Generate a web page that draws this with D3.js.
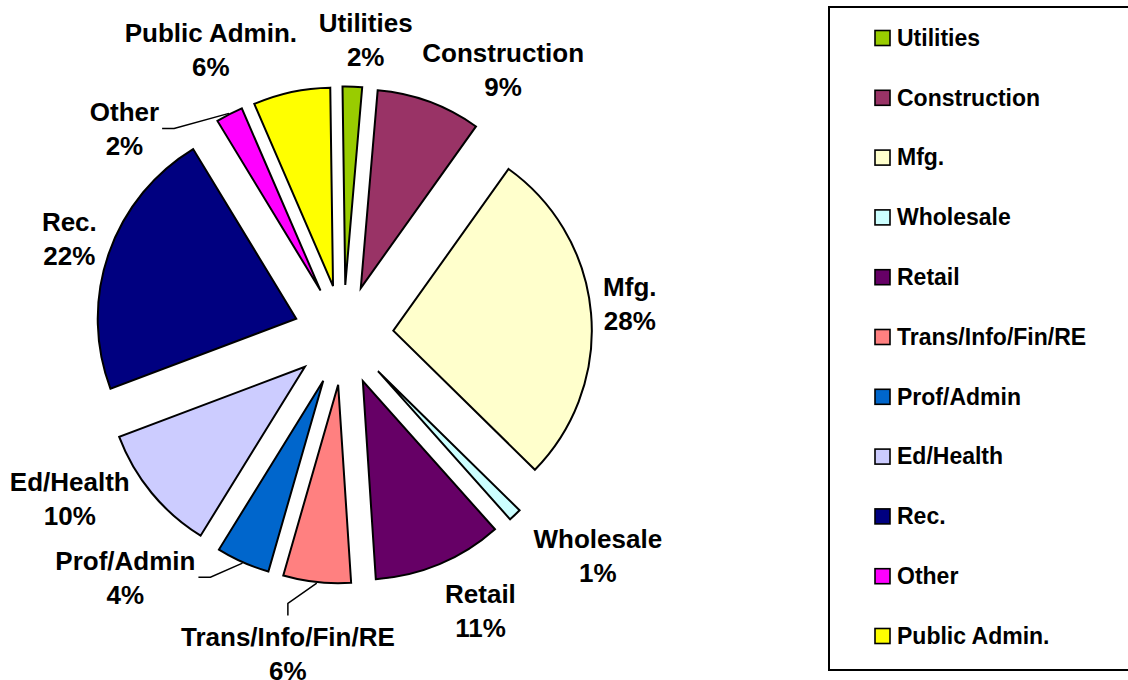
<!DOCTYPE html>
<html>
<head>
<meta charset="utf-8">
<script src="https://cdn.jsdelivr.net/npm/d3@7"></script>
<style>
  html, body { margin: 0; padding: 0; background: #fff; }
  svg { display: block; }
  text { font-family: "Liberation Sans", Arial, sans-serif; font-weight: bold; fill: #000; }
</style>
</head>
<body>
<svg id="chart" width="1128" height="680"></svg>
<script>
// ---- data ----
const categories = ["Utilities", "Construction", "Mfg.", "Wholesale", "Retail",
  "Trans/Info/Fin/RE", "Prof/Admin", "Ed/Health", "Rec.", "Other", "Public Admin."];
const shares = [1.58, 8.5, 27.5, 1.05, 10.55, 5.5, 4.35, 10.45, 22.05, 2.2, 6.27];
const colors = ["#99CC00", "#993366", "#FFFFCC", "#CCFFFF", "#660066",
  "#FF8080", "#0066CC", "#CCCCFF", "#000080", "#FF00FF", "#FFFF00"];

// ---- label layout (polar, around the pie centre) ----
const labelAngleDeg = [4.3, 31.0, 83.8, 131.0, 153.6, 189.9, 222.0, 239.1, 289.3, 313.3, 335.1];
const labelRadius   = [296, 310, 288, 337, 308, 323.5, 326, 319, 290.5, 301, 315];
const leaderSide = { "Other": "right", "Prof/Admin": "right", "Trans/Info/Fin/RE": "top" };

// ---- geometry ----
const cx = 343.5, cy = 335, R = 198.5, explode = 50;
const startA = -0.8 * Math.PI / 180;

const svg = d3.select("#chart");

const pie = d3.pie().sort(null).value(d => d.v)
  .startAngle(startA).endAngle(startA + 2 * Math.PI);
const data = categories.map((c, i) => ({ c, v: shares[i], col: colors[i], i }));
const arcs = pie(data);
const arc = d3.arc().innerRadius(0).outerRadius(R);

const g = svg.append("g").attr("transform", `translate(${cx},${cy})`);

arcs.forEach(a => {
  const mid = (a.startAngle + a.endAngle) / 2;
  const dx = Math.sin(mid) * explode, dy = -Math.cos(mid) * explode;
  g.append("path")
    .attr("d", arc(a))
    .attr("transform", `translate(${dx},${dy})`)
    .attr("fill", a.data.col)
    .attr("stroke", "#000")
    .attr("stroke-width", 2)
    .attr("stroke-linejoin", "miter");
});

// ---- data labels ----
const lineGap = 34;
arcs.forEach((a, k) => {
  const ang = labelAngleDeg[k] * Math.PI / 180;
  const lx = Math.sin(ang) * labelRadius[k];
  const ly = -Math.cos(ang) * labelRadius[k];
  const t = g.append("text").attr("text-anchor", "middle").style("font-size", "26px");
  const t1 = t.append("tspan").attr("x", lx).attr("y", ly - 7.7).text(a.data.c);
  const t2 = t.append("tspan").attr("x", lx).attr("y", ly - 7.7 + lineGap)
    .text(Math.round(a.data.v) + "%");

  const side = leaderSide[a.data.c];
  if (side) {
    const mid = (a.startAngle + a.endAngle) / 2;
    const rr = R + explode + 1;
    const p0 = [Math.sin(mid) * rr, -Math.cos(mid) * rr];
    let p1, p2;
    if (side === "right") {
      const w = Math.max(t1.node().getComputedTextLength(), t2.node().getComputedTextLength());
      const right = lx + w / 2;
      p2 = [right + 3, ly];
      p1 = [right + 15, ly];
    } else {
      const top = ly - 7.7 - 18.6;
      p2 = [lx, top - 12];
      p1 = [lx, top - 24];
    }
    g.append("path")
      .attr("d", d3.line()([p0, p1, p2]))
      .attr("fill", "none")
      .attr("stroke", "#000")
      .attr("stroke-width", 1.5);
  }
});

// ---- legend ----
const lg = svg.append("g");
lg.append("rect")
  .attr("x", 829).attr("y", 7).attr("width", 330).attr("height", 663)
  .attr("fill", "#fff").attr("stroke", "#000").attr("stroke-width", 2);

const rowY = d3.scalePoint().domain(categories).range([38, 636]);
categories.forEach((c, i) => {
  const y = rowY(c);
  lg.append("rect")
    .attr("x", 875).attr("y", y - 7.5).attr("width", 15).attr("height", 15)
    .attr("fill", colors[i]).attr("stroke", "#000").attr("stroke-width", 1.6);
  lg.append("text")
    .attr("x", 897).attr("y", y + 7.8)
    .style("font-size", "23px")
    .text(c);
});
</script>
</body>
</html>
